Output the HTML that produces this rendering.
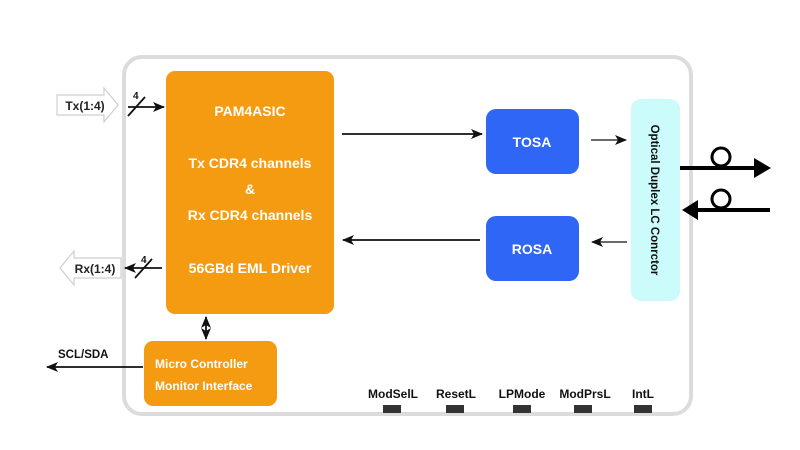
<!DOCTYPE html>
<html><head><meta charset="utf-8"><style>
html,body{margin:0;padding:0;background:#fff;}
svg{display:block;font-family:"Liberation Sans",sans-serif;font-weight:bold;}
</style></head><body>
<svg width="800" height="450" viewBox="0 0 800 450" xmlns="http://www.w3.org/2000/svg">
<defs>
<marker id="a" markerWidth="12" markerHeight="10" refX="11" refY="5" orient="auto-start-reverse" markerUnits="userSpaceOnUse"><path d="M0,0 L12,5 L0,10 L3,5 Z" fill="#111"/></marker>
</defs>
<rect x="124" y="57" width="567" height="357" rx="18" fill="#fff" stroke="#dcdcdc" stroke-width="4"/>
<path d="M57,95 H104 V88 L118,105 L104,122 V115 H57 Z" fill="#fff" stroke="#cfcfcf" stroke-width="1.2"/>
<text x="85" y="110" font-size="12" text-anchor="middle" fill="#222">Tx(1:4)</text>
<path d="M121,258 H74 V251 L60,268 L74,285 V278 H121 Z" fill="#fff" stroke="#cfcfcf" stroke-width="1.2"/>
<text x="95" y="273" font-size="12" text-anchor="middle" fill="#222">Rx(1:4)</text>
<line x1="128" y1="107" x2="164" y2="107" stroke="#111" stroke-width="1.8" marker-end="url(#a)"/>
<line x1="128" y1="116" x2="145" y2="97" stroke="#111" stroke-width="1.8"/>
<text x="133" y="99" font-size="10" fill="#111">4</text>
<line x1="162" y1="268" x2="125" y2="268" stroke="#111" stroke-width="1.8" marker-end="url(#a)"/>
<line x1="135" y1="278" x2="152" y2="259" stroke="#111" stroke-width="1.8"/>
<text x="141" y="263" font-size="10" fill="#111">4</text>
<rect x="166" y="71" width="168" height="243" rx="9" fill="#f59b12"/>
<g fill="#fff" font-size="14" text-anchor="middle">
<text x="250" y="116">PAM4ASIC</text>
<text x="250" y="168">Tx CDR4 channels</text>
<text x="250" y="194">&amp;</text>
<text x="250" y="220">Rx CDR4 channels</text>
<text x="250" y="273">56GBd EML Driver</text>
</g>
<rect x="144" y="341" width="133" height="65" rx="9" fill="#f59b12"/>
<text x="155" y="368" font-size="12" fill="#fff">Micro Controller</text>
<text x="155" y="390" font-size="12" fill="#fff">Monitor Interface</text>
<line x1="206" y1="317" x2="206" y2="339" stroke="#111" stroke-width="1.8" marker-end="url(#a)" marker-start="url(#a)"/>
<line x1="143" y1="367" x2="47" y2="367" stroke="#111" stroke-width="1.8" marker-end="url(#a)"/>
<text x="58" y="358" font-size="11.5" fill="#111">SCL/SDA</text>
<rect x="486" y="109" width="93" height="65" rx="10" fill="#2f66f5"/>
<text x="532" y="147" font-size="14" fill="#fff" text-anchor="middle">TOSA</text>
<rect x="486" y="216" width="93" height="65" rx="10" fill="#2f66f5"/>
<text x="532" y="254" font-size="14" fill="#fff" text-anchor="middle">ROSA</text>
<line x1="342" y1="134" x2="482" y2="134" stroke="#111" stroke-width="1.8" marker-end="url(#a)"/>
<line x1="480" y1="240" x2="343" y2="240" stroke="#111" stroke-width="1.8" marker-end="url(#a)"/>
<line x1="591" y1="140" x2="626" y2="140" stroke="#111" stroke-width="1.3" marker-end="url(#a)"/>
<line x1="627" y1="242" x2="592" y2="242" stroke="#111" stroke-width="1.3" marker-end="url(#a)"/>
<rect x="631" y="99" width="49" height="202" rx="10" fill="#ccfbfb"/>
<text transform="translate(651,200) rotate(90)" font-size="11.5" fill="#111" text-anchor="middle">Optical Duplex LC Conrctor</text>
<line x1="680" y1="168" x2="757" y2="168" stroke="#000" stroke-width="4"/>
<path d="M754,158 L771,168 L754,178 Z" fill="#000"/>
<circle cx="721" cy="157" r="9" fill="none" stroke="#000" stroke-width="3"/>
<line x1="770" y1="210" x2="695" y2="210" stroke="#000" stroke-width="4"/>
<path d="M698,200 L682,210 L698,220 Z" fill="#000"/>
<circle cx="721" cy="199" r="9" fill="none" stroke="#000" stroke-width="3"/>
<g font-size="12" fill="#111" text-anchor="middle">
<text x="393" y="398">ModSelL</text>
<text x="456" y="398">ResetL</text>
<text x="522" y="398">LPMode</text>
<text x="585" y="398">ModPrsL</text>
<text x="643" y="398">IntL</text>
</g>
<g fill="#333">
<rect x="383" y="405" width="18" height="8"/>
<rect x="446" y="405" width="18" height="8"/>
<rect x="513" y="405" width="18" height="8"/>
<rect x="574" y="405" width="18" height="8"/>
<rect x="634" y="405" width="18" height="8"/>
</g>
</svg>
</body></html>
